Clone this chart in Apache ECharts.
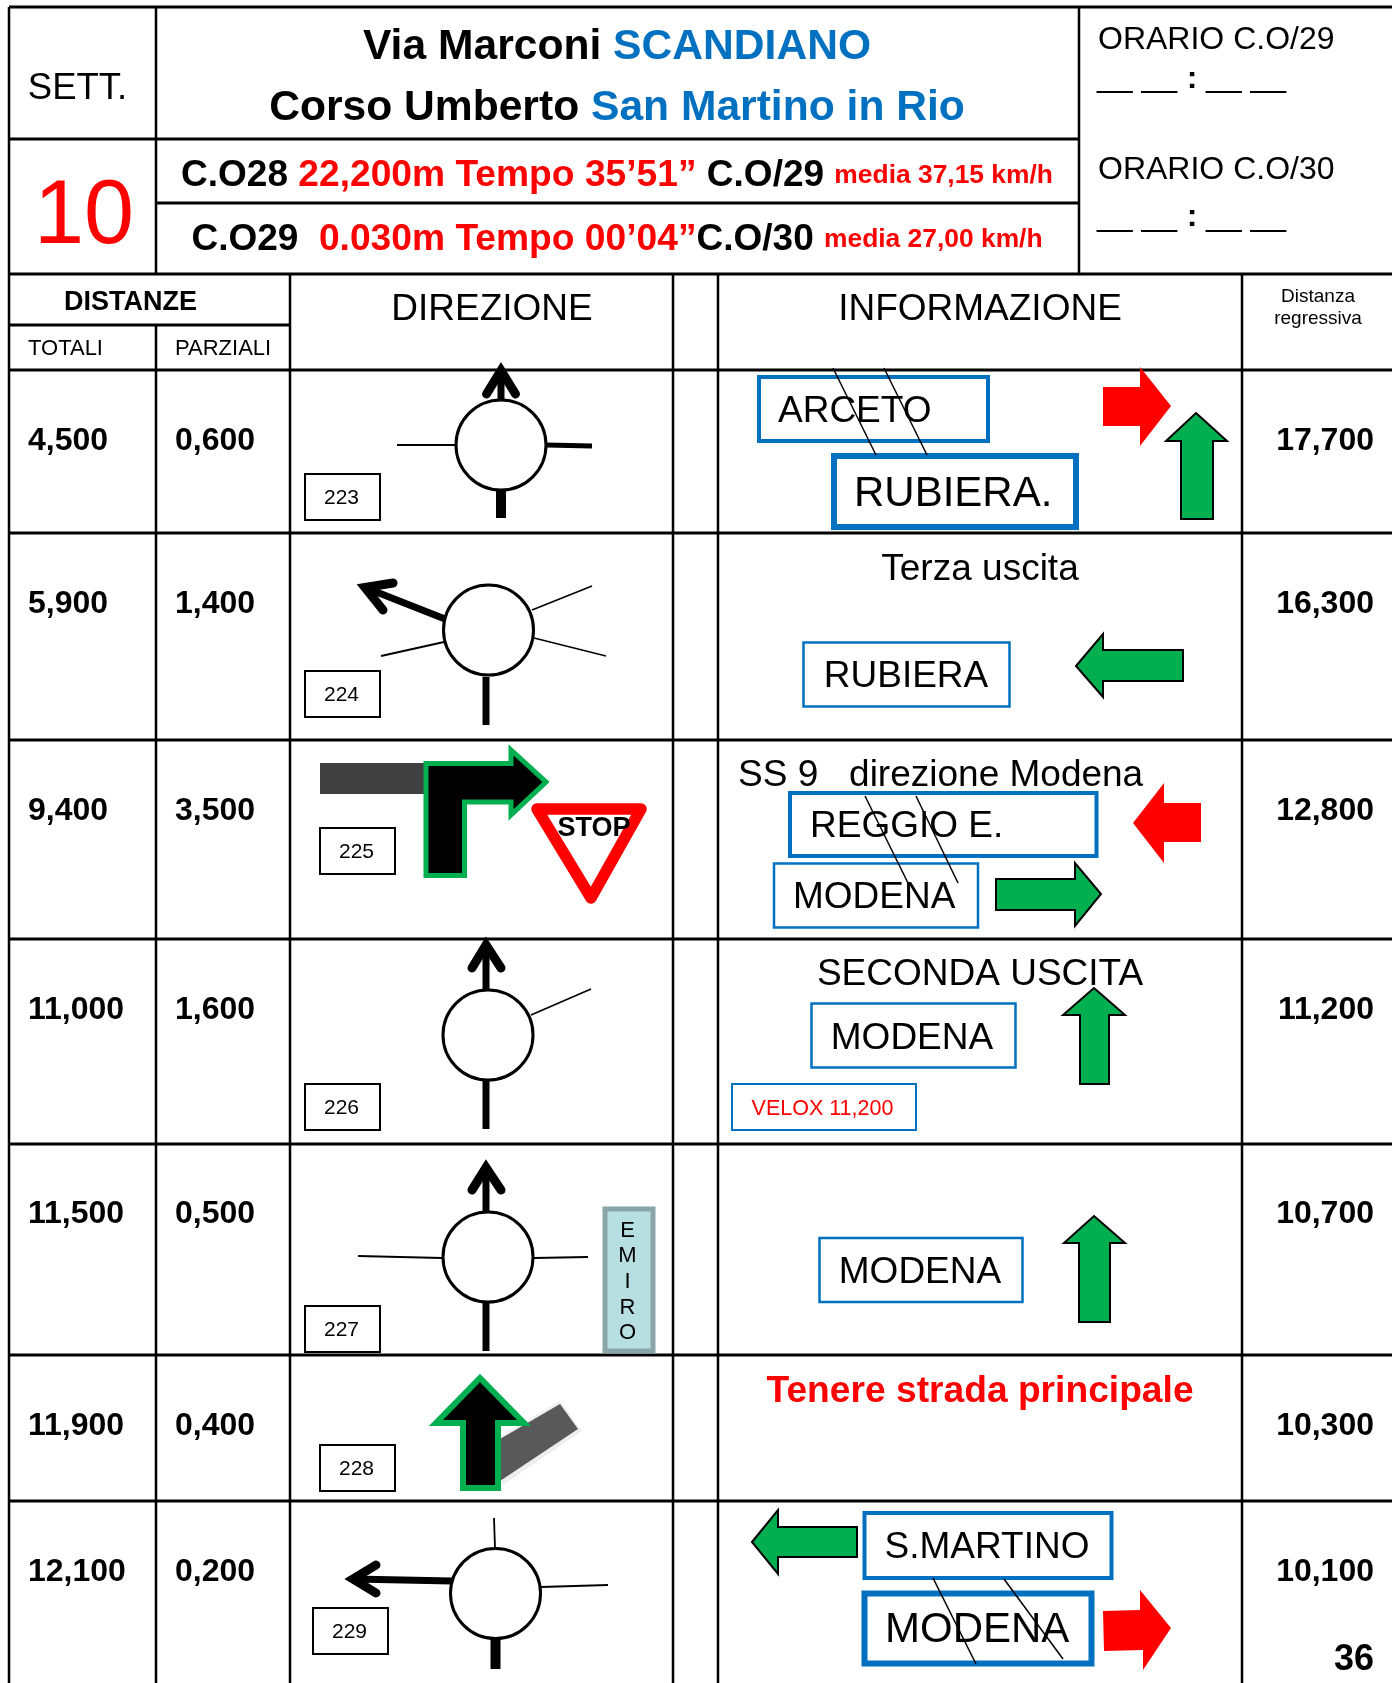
<!DOCTYPE html>
<html>
<head>
<meta charset="utf-8">
<title>Roadbook settore 10</title>
<script src="https://cdn.jsdelivr.net/npm/echarts@6/dist/echarts.min.js"></script>
<style>
html, body { margin: 0; padding: 0; background: #fff; }
#main { width: 1392px; height: 1683px; }
</style>
</head>
<body>
<div id="main"></div>
<script>
// table values
let totali = ['4,500', '5,900', '9,400', '11,000', '11,500', '11,900', '12,100']
let parziali = ['0,600', '1,400', '3,500', '1,600', '0,500', '0,400', '0,200']
let regressiva = ['17,700', '16,300', '12,800', '11,200', '10,700', '10,300', '10,100']
let codici = ['223', '224', '225', '226', '227', '228', '229']
let emiro = ['E', 'M', 'I', 'R', 'O']

// layout, kept apart from the values
let rowTextY = [439, 602, 809, 1008, 1212, 1424, 1570]
let codeBox = [[305, 474], [305, 671], [320, 828], [305, 1084], [305, 1306], [320, 1445], [313, 1608]]
let emiroY = [1230, 1255, 1281, 1307, 1332]

const FONT = '"Liberation Sans", Arial, sans-serif'
const BLUE = '#0070c0'
const GREEN = '#00b050'
const RED = '#ff0000'
const TEXT_DY = 2.5 // canvas middle sits a bit higher than in the reference
let els = []

function line(x1, y1, x2, y2, w, color) {
    els.push({
        type: 'line', silent: true,
        shape: { x1: x1, y1: y1, x2: x2, y2: y2 },
        style: { stroke: color || '#000', lineWidth: w, lineCap: 'butt' }
    })
}

function box(x, y, w, h, lw, color, fill) {
    els.push({
        type: 'rect', silent: true,
        shape: { x: x, y: y, width: w, height: h },
        style: { stroke: color, lineWidth: lw, fill: fill || 'rgba(0,0,0,0)' }
    })
}

function poly(points, fill, stroke, lw, join) {
    els.push({
        type: 'polygon', silent: true,
        shape: { points: points },
        style: { fill: fill, stroke: stroke || null, lineWidth: lw || 0, lineJoin: join || 'miter' }
    })
}

function text(str, x, y, size, opt) {
    opt = opt || {}
    els.push({
        type: 'text', silent: true,
        style: {
            text: str, x: x, y: y + TEXT_DY,
            fontFamily: FONT, fontSize: size,
            fontWeight: opt.bold ? 'bold' : 'normal',
            fill: opt.color || '#000',
            align: opt.align || 'center',
            verticalAlign: 'middle'
        }
    })
}

function richText(str, x, y, rich) {
    els.push({
        type: 'text', silent: true,
        style: { text: str, x: x, y: y + TEXT_DY, rich: rich, fontFamily: FONT, align: 'center', verticalAlign: 'middle' }
    })
}

function circle(cx, cy) {
    els.push({
        type: 'circle', silent: true,
        shape: { cx: cx, cy: cy, r: 45 },
        style: { stroke: '#000', lineWidth: 3, fill: '#fff' }
    })
}

// thick road with a heavy open arrow head on the end
function openArrow(x1, y1, tip, barb1, barb2) {
    line(x1, y1, tip[0], tip[1], 7)
    els.push({
        type: 'polyline', silent: true,
        shape: { points: [barb1, tip, barb2] },
        style: { stroke: '#000', lineWidth: 9, lineCap: 'round', lineJoin: 'miter', miterLimit: 10, fill: null }
    })
}

// table grid
let h_lines = [
    [9, 1392, 7], [9, 1079, 139], [156, 1079, 203], [9, 1392, 274], [9, 290, 325], [9, 1392, 370],
    [9, 1392, 533], [9, 1392, 740], [9, 1392, 939], [9, 1392, 1144], [9, 1392, 1355], [9, 1392, 1501]
]
let v_lines = [
    [9, 7, 1683], [156, 7, 274], [156, 325, 1683], [290, 274, 1683], [673, 274, 1683],
    [718, 274, 1683], [1079, 7, 274], [1242, 274, 1683]
]
h_lines.forEach(function (l) { line(l[0], l[2], l[1], l[2], 3) })
v_lines.forEach(function (l) { line(l[0], l[1], l[0], l[2], 2.5) })

// header
text('SETT.', 77.5, 86, 36.5)
text('10', 84, 216, 90, { color: RED })
let title_rich = {
    k: { fontFamily: FONT, fontSize: 42.6, fontWeight: 'bold', fill: '#000' },
    b: { fontFamily: FONT, fontSize: 42.6, fontWeight: 'bold', fill: BLUE }
}
richText('{k|Via Marconi }{b|SCANDIANO}', 617, 45, title_rich)
richText('{k|Corso Umberto }{b|San Martino in Rio}', 617, 106, title_rich)
let co_rich = {
    k: { fontFamily: FONT, fontSize: 37, fontWeight: 'bold', fill: '#000' },
    r: { fontFamily: FONT, fontSize: 37.2, fontWeight: 'bold', fill: RED },
    m: { fontFamily: FONT, fontSize: 26.4, fontWeight: 'bold', fill: RED }
}
richText('{k|C.O28 }{r|22,200m Tempo 35’51” }{k|C.O/29 }{m|media 37,15 km/h}', 617, 173, co_rich)
richText('{k|C.O29  }{r|0.030m Tempo 00’04”}{k|C.O/30 }{m|media 27,00 km/h}', 617, 237, co_rich)

text('ORARIO C.O/29', 1098, 38, 32, { align: 'left' })
text('__ __', 1097, 76, 32, { align: 'left' })
text(':', 1192, 76.5, 32, { bold: true })
text('__ __', 1206, 76, 32, { align: 'left' })
text('ORARIO C.O/30', 1098, 168, 32, { align: 'left' })
text('__ __', 1097, 214.5, 32, { align: 'left' })
text(':', 1192, 214.5, 32, { bold: true })
text('__ __', 1206, 214.5, 32, { align: 'left' })

text('DISTANZE', 130.5, 300, 27, { bold: true })
text('TOTALI', 28, 346, 22, { align: 'left' })
text('PARZIALI', 175, 346, 22, { align: 'left' })
text('DIREZIONE', 492, 307, 37)
text('INFORMAZIONE', 980, 307, 37)
text('Distanza', 1318, 294.5, 19)
text('regressiva', 1318, 316.5, 19)

// distances and waypoint numbers
totali.forEach(function (v, i) {
    text(v, 28, rowTextY[i] - 0.5, 32, { bold: true, align: 'left' })
    text(parziali[i], 175, rowTextY[i] - 0.5, 32, { bold: true, align: 'left' })
    text(regressiva[i], 1374, rowTextY[i] - 0.5, 32, { bold: true, align: 'right' })
    box(codeBox[i][0], codeBox[i][1], 75, 46, 2, '#000')
    text(codici[i], codeBox[i][0] + 36.5, codeBox[i][1] + 22, 21)
})
text('36', 1374, 1658, 36, { bold: true, align: 'right' })

// 223
line(397, 445, 456, 445, 2)
line(546, 445, 592, 446, 5)
line(501, 490, 501, 518, 10)
openArrow(501, 400, [501, 370.5], [486.5, 394], [515.5, 394])
circle(501, 445)
box(759, 377, 229, 64, 4, BLUE)
text('ARCETO', 778, 409.5, 37, { align: 'left' })
box(834, 456, 242, 71, 6, BLUE)
text('RUBIERA.', 854, 492, 42, { align: 'left' })
line(833, 368, 876, 455, 1.5)
line(884, 368, 927, 455, 1.5)
poly([[1103, 387], [1140, 387], [1140, 367], [1171, 406], [1140, 446], [1140, 426], [1103, 426]], RED)
poly([[1196, 413], [1227, 441], [1213, 441], [1213, 519], [1181, 519], [1181, 441], [1166, 441]], GREEN, '#000', 2)

// 224
line(532, 610, 592, 586, 1.8)
line(534, 638, 606, 656, 1.8)
line(444, 642, 381, 656, 1.8)
line(486, 677, 486, 725, 7)
openArrow(445, 619, [365, 587.5], [393, 583], [383, 610])
circle(488.5, 630)
text('Terza uscita', 980, 567, 37)
box(803.5, 642.5, 206, 64, 2.5, BLUE)
text('RUBIERA', 906, 674.5, 37)
poly([[1076, 666], [1103, 634], [1103, 650], [1183, 650], [1183, 681], [1103, 681], [1103, 697]], GREEN, '#000', 2)

// 225
box(320, 763, 107, 31, 0, '#404040', '#404040')
poly([[426, 875.5], [426, 763.5], [511, 763.5], [511, 750], [546, 782], [511, 815], [511, 802], [464.5, 802], [464.5, 875.5]], '#000', GREEN, 5)
poly([[537, 809], [641, 809], [591, 898]], '#fff', RED, 11.5, 'round')
text('STOP', 594, 826, 27, { bold: true })
text('SS 9   direzione Modena', 738, 773, 37, { align: 'left' })
box(790, 793, 306.5, 63, 4, BLUE)
text('REGGIO E.', 810, 824.5, 37, { align: 'left' })
box(774, 863.5, 204, 64, 2.5, BLUE)
text('MODENA', 793, 895.5, 37, { align: 'left' })
line(865, 796, 908, 883, 1.5)
line(916, 796, 958, 883, 1.5)
poly([[996, 879], [1075, 879], [1075, 863], [1101, 894], [1075, 926], [1075, 910], [996, 910]], GREEN, '#000', 2)
poly([[1133, 823], [1164, 783], [1164, 803], [1201, 803], [1201, 842], [1164, 842], [1164, 863]], RED)

// 226
line(531, 1015, 591, 989, 1.8)
line(486, 1081, 486, 1129, 7)
openArrow(486, 990, [486, 945], [472, 968], [501, 968])
circle(488, 1035)
text('SECONDA USCITA', 980, 972.5, 37)
box(811.5, 1003.5, 204, 64, 2.5, BLUE)
text('MODENA', 912, 1036, 37)
poly([[1094, 988], [1125, 1015], [1109, 1015], [1109, 1084], [1080, 1084], [1080, 1015], [1063, 1015]], GREEN, '#000', 2)
box(732, 1084, 184, 46, 2, BLUE)
text('VELOX 11,200', 822.5, 1107, 21.5, { color: RED })

// 227
line(358, 1256, 442, 1258, 1.8)
line(534, 1258, 588, 1257, 1.8)
line(486, 1303, 486, 1351, 7)
openArrow(486, 1212, [486, 1167.5], [472, 1190], [501, 1190])
circle(488, 1257)
box(605, 1209, 48, 142, 5, '#8aa5a8', '#b7dee0')
emiro.forEach(function (c, i) {
    text(c, 627.5, emiroY[i] - 1.5, 22)
})
box(819.5, 1238, 203, 64, 2.5, BLUE)
text('MODENA', 920, 1270.5, 37)
poly([[1094, 1216], [1125, 1243], [1110, 1243], [1110, 1322], [1079, 1322], [1079, 1243], [1064, 1243]], GREEN, '#000', 2)

// 228
poly([[560, 1401], [582, 1431], [500, 1487], [500, 1436]], '#eeeeee')
poly([[560, 1404], [578, 1429], [500, 1481], [500, 1439]], '#595959')
poly([[480, 1378], [524, 1423], [498, 1423], [498, 1488], [463, 1488], [463, 1423], [436, 1423]], '#000', GREEN, 6)
text('Tenere strada principale', 980, 1389, 37.2, { bold: true, color: RED })

// 229
line(494, 1518, 495, 1548, 1.8)
line(541, 1587, 608, 1585, 1.8)
line(495.5, 1639, 495.5, 1669, 10)
openArrow(452, 1581, [353, 1579], [376, 1565], [376, 1593])
circle(495.5, 1593.5)
box(864.5, 1513, 247, 65, 4, BLUE)
text('S.MARTINO', 987, 1545.5, 37)
box(864.5, 1593.5, 227, 70, 6, BLUE)
text('MODENA', 885, 1628, 42, { align: 'left' })
line(933, 1578, 976, 1664, 1.5)
line(1004, 1579, 1063, 1659, 1.5)
poly([[752, 1542], [778, 1510], [778, 1527], [857, 1527], [857, 1557], [778, 1557], [778, 1574]], GREEN, '#000', 2)
poly([[1103, 1611], [1140, 1610], [1140, 1590], [1171, 1628], [1143, 1670], [1143, 1650], [1104, 1651]], RED)

let chart = echarts.init(document.getElementById('main'), null, { renderer: 'canvas' })
chart.setOption({
    backgroundColor: '#fff',
    animation: false,
    graphic: { elements: els }
})
</script>
</body>
</html>
